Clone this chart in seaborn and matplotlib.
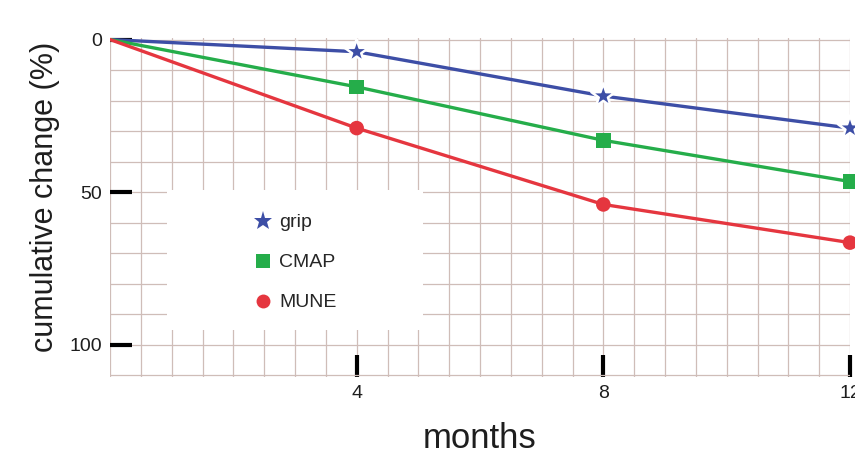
import numpy as np
import pandas as pd
import matplotlib
matplotlib.use("Agg")
import matplotlib.pyplot as plt
from matplotlib.patches import Rectangle
import seaborn as sns

months = [0, 4, 8, 12]
grip = [0, 4, 18.5, 29]
cmap_vals = [0, 15.5, 33, 46.5]
mune = [0, 29, 54, 66.5]

series = ["grip", "CMAP", "MUNE"]
colors = {"grip": "#3d4ea6", "CMAP": "#25ad4a", "MUNE": "#e5363f"}
markers = {"grip": "*", "CMAP": "s", "MUNE": "o"}

rows = []
for name, vals in zip(series, [grip, cmap_vals, mune]):
    for m, v in zip(months, vals):
        rows.append({"months": m, "change": v, "series": name})
df = pd.DataFrame(rows)

sns.set_style("white")
plt.rcParams["font.family"] = ["Liberation Sans", "DejaVu Sans"]

fig = plt.figure(figsize=(8.55, 4.57), dpi=100)
ax = fig.add_axes([110 / 855, 1 - 377 / 457, 740 / 855, 339 / 457])

sns.lineplot(data=df, x="months", y="change", hue="series", palette=colors,
             linewidth=2.4, legend=False, ax=ax, zorder=3)

pts = df[df["months"] > 0]
sns.scatterplot(data=pts, x="months", y="change", hue="series", style="series",
                palette=colors, markers=markers, s=110, ax=ax, zorder=4,
                clip_on=False)
coll = ax.collections[-1]
coll.set_edgecolors("white")
coll.set_linewidths([1.8 if s == "grip" else 0 for s in pts["series"]])
coll.set_sizes([330 if s == "grip" else 110 for s in pts["series"]])

ax.set_xlim(0, 12)
ax.set_ylim(110.5, -0.5)

ax.set_xticks([4, 8, 12])
ax.set_yticks([0, 50, 100])
ax.set_xticks(np.arange(0, 12.01, 0.5), minor=True)
ax.set_yticks(np.arange(0, 111, 10), minor=True)
ax.grid(which="both", color="#cfbdb8", linewidth=0.9)
ax.set_axisbelow(True)
for sp in ax.spines.values():
    sp.set_visible(False)

ax.tick_params(which="major", direction="in", length=16, width=3,
               color="black", labelsize=14, pad=6, labelcolor="#1e1e1e",
               left=True, bottom=True)
ax.tick_params(which="minor", length=0)

ax.set_xlabel("months", fontsize=25, labelpad=14, color="#1e1e1e")
ax.set_ylabel("cumulative change (%)", fontsize=22, color="#1e1e1e")
ax.yaxis.set_label_coords(-0.067, 0.53)

ax.add_patch(Rectangle((0.077, 0.139), 0.346, 0.413, transform=ax.transAxes,
                       facecolor="white", edgecolor="none", zorder=2))

handles, labels = ax.get_legend_handles_labels()
leg = ax.legend(handles, labels, loc="upper left", bbox_to_anchor=(0.18, 0.51),
                frameon=False, fontsize=14, handlelength=1.0,
                handletextpad=0.35, labelspacing=1.15, borderpad=0)
for h, lab in zip(leg.legend_handles, labels):
    if lab == "grip":
        h.set_markersize(14) if hasattr(h, "set_markersize") else h.set_sizes([200])
    else:
        h.set_markersize(10) if hasattr(h, "set_markersize") else h.set_sizes([90])
    if hasattr(h, "set_markeredgewidth"):
        h.set_markeredgewidth(0)

fig.savefig("out.png", dpi=100)
